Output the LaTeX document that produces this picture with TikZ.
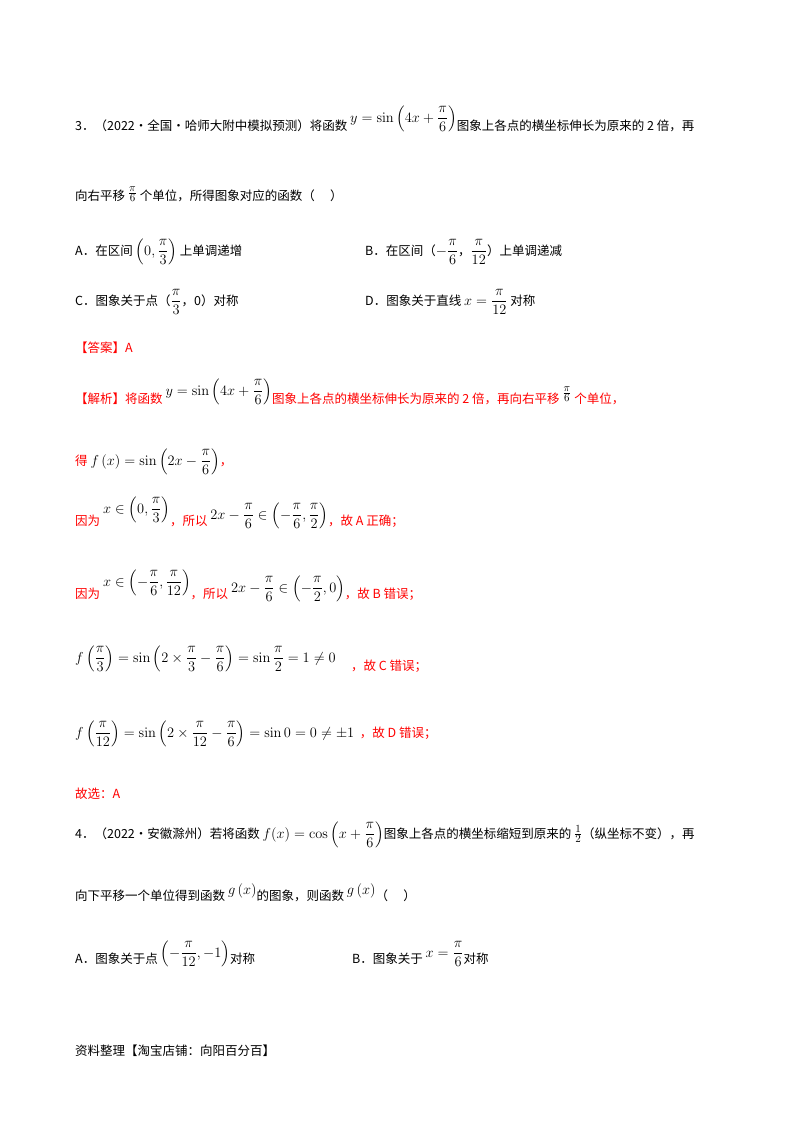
\documentclass[tikz,border=0pt]{standalone}
\usepackage{amsmath}
\usepackage[no-math]{fontspec}
\setmainfont{Noto Sans CJK SC}
\definecolor{ansred}{RGB}{255,0,0}
\newcommand{\mm}[1]{{\fontsize{15}{17}\selectfont\color{black}$#1$}}
\tikzset{t/.style={anchor=base west,inner sep=0pt,font=\fontsize{12.5}{15}\selectfont},
 r/.style={t,text=ansred}}
\begin{document}
\begin{tikzpicture}[x=1pt,y=-1pt]
\useasboundingbox (0,0) rectangle (800,1132);
\node[t] (l1) at (75,130) {3．（2022·全国·哈师大附中模拟预测）将函数 \raisebox{8pt}{\mm{y=\sin\left(4x+\dfrac{\pi}{6}\right)}}图象上各点的横坐标伸长为原来的 2 倍，再};
\node[t] (l2) at (75,200) {向右平移 \raisebox{3pt}{\mm{\frac{\pi}{6}}} 个单位，所得图象对应的函数（\quad\ ）};
\node[t] (a) at (75,255) {A．在区间 \mm{\left(0,\dfrac{\pi}{3}\right)} 上单调递增};
\node[t] (b) at (365,255) {B．在区间（\mm{-\dfrac{\pi}{6}}，\mm{\dfrac{\pi}{12}}）上单调递减};
\node[t] (c) at (75,305) {C．图象关于点（\mm{\dfrac{\pi}{3}}，0）对称};
\node[t] (d) at (365,305) {D．图象关于直线 \mm{x=\dfrac{\pi}{12}} 对称};
\node[r] (ans) at (75,352) {【答案】A};
\node[r] (j1) at (75,403) {【解析】将函数 \raisebox{8pt}{\mm{y=\sin\left(4x+\dfrac{\pi}{6}\right)}}图象上各点的横坐标伸长为原来的 2 倍，再向右平移 \raisebox{6pt}{\mm{\frac{\pi}{6}}} 个单位，};
\node[r] (j2) at (75,465) {得 \mm{f\left(x\right)=\sin\left(2x-\dfrac{\pi}{6}\right)}，};
\node[r] (j3) at (75,525) {因为 \raisebox{12pt}{\mm{x\in\left(0,\dfrac{\pi}{3}\right)}}，所以 \raisebox{6pt}{\mm{2x-\dfrac{\pi}{6}\in\left(-\dfrac{\pi}{6},\dfrac{\pi}{2}\right)}}，故 A 正确；};
\node[r] (j4) at (75,598) {因为 \raisebox{12pt}{\mm{x\in\left(-\dfrac{\pi}{6},\dfrac{\pi}{12}\right)}}，所以 \raisebox{6pt}{\mm{2x-\dfrac{\pi}{6}\in\left(-\dfrac{\pi}{2},0\right)}}，故 B 错误；};
\node[r] (j5) at (75,662) {\mm{f\left(\dfrac{\pi}{3}\right)=\sin\left(2\times\dfrac{\pi}{3}-\dfrac{\pi}{6}\right)=\sin\dfrac{\pi}{2}=1\neq0}\quad\ \raisebox{-8pt}{，故 C 错误；}};
\node[r] (j6) at (75,737) {\mm{f\left(\dfrac{\pi}{12}\right)=\sin\left(2\times\dfrac{\pi}{12}-\dfrac{\pi}{6}\right)=\sin0=0\neq\pm1}\ \ ，故 D 错误；};
\node[r] (j7) at (75,798) {故选：A};
\node[t] (m1) at (75,838) {4．（2022·安徽滁州）若将函数 \mm{f(x)=\cos\left(x+\dfrac{\pi}{6}\right)}图象上各点的横坐标缩短到原来的 \mm{\frac{1}{2}}（纵坐标不变），再};
\node[t] (m2) at (75,900) {向下平移一个单位得到函数 \raisebox{6pt}{\mm{g\left(x\right)}}的图象，则函数 \raisebox{6pt}{\mm{g\left(x\right)}}（\quad\ ）};
\node[t] (ma) at (75,963) {A．图象关于点 \raisebox{6pt}{\mm{\left(-\dfrac{\pi}{12},-1\right)}}对称};
\node[t] (mb) at (352,963) {B．图象关于 \raisebox{6pt}{\mm{x=\dfrac{\pi}{6}}}对称};
\node[t] (foot) at (75,1055) {资料整理【淘宝店铺：向阳百分百】};
\end{tikzpicture}
\end{document}
